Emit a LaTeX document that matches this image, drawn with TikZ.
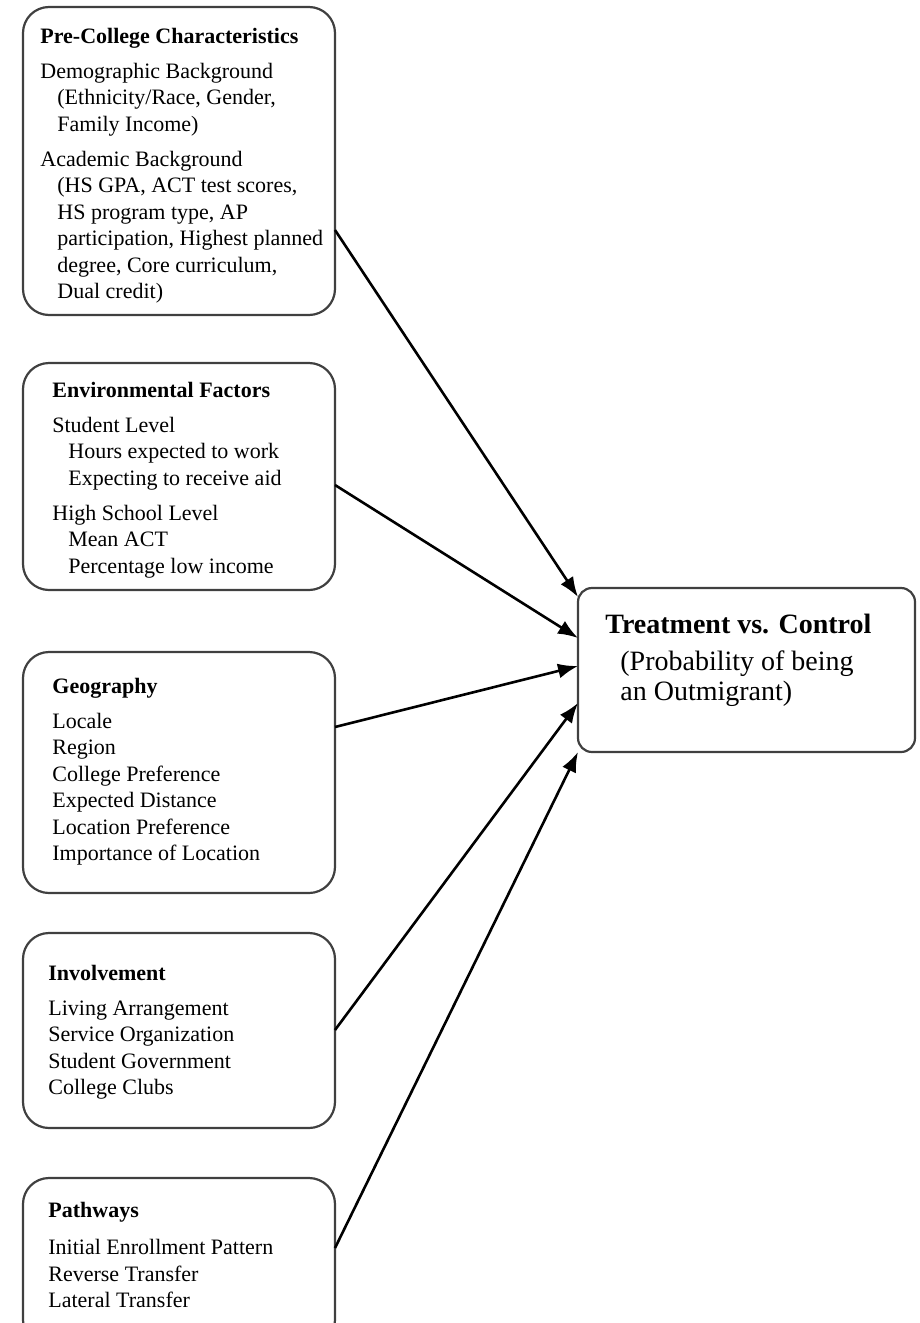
\documentclass[tikz,border=0pt]{standalone}
\usepackage{fontspec}
\setmainfont{Liberation Serif}
\usetikzlibrary{arrows.meta}

\tikzstyle{factor} = [draw=black!75, line width=1.1pt, rounded corners=13pt, minimum width=156pt, inner sep=0pt, outer sep=0pt, anchor=north west]
\tikzstyle{outcome} = [draw=black!75, line width=1.1pt, rounded corners=7pt, minimum width=168.5pt, minimum height=82pt, inner sep=0pt, outer sep=0pt, anchor=north west]
\tikzstyle{body} = [inner sep=0pt, anchor=north west, align=left, font=\fontsize{11}{13.25}\selectfont]
\tikzstyle{big} = [inner sep=0pt, anchor=north west, align=left, font=\fontsize{14}{15}\selectfont]
\tikzstyle{arr} = [line width=1.3pt, -{Latex[length=10pt,width=7.5pt]}]

\begin{document}
\begin{tikzpicture}[x=0.5pt, y=-0.5pt]
      \useasboundingbox (0,0) rectangle (920,1323);
      \clip (0,0) rectangle (920,1323);
      % boxes on the left
      \node[factor, minimum height=154pt] (pre) at (23,7) {};
      \node[factor, minimum height=113.5pt] (env) at (23,363) {};
      \node[factor, minimum height=120.5pt] (geo) at (23,652) {};
      \node[factor, minimum height=97.5pt] (inv) at (23,933) {};
      \node[factor, minimum height=84pt] (path) at (23,1178) {};
      \node[outcome] (res) at (578,588) {};
      % texts
      \node[body] (preT) at (40,24.5) {\strut\textbf{Pre-College Characteristics}\\[4.25pt]
        Demographic Background\\
        \hspace*{8.5pt}(Ethnicity/Race, Gender,\\
        \hspace*{8.5pt}Family Income)\\[4.25pt]
        Academic Background\\
        \hspace*{8.5pt}(HS GPA, ACT test scores,\\
        \hspace*{8.5pt}HS program type, AP\\
        \hspace*{8.5pt}participation, Highest planned\\
        \hspace*{8.5pt}degree, Core curriculum,\\
        \hspace*{8.5pt}Dual credit)};
      \node[body] (envT) at (52,378.5) {\strut\textbf{Environmental Factors}\\[4.25pt]
        Student Level\\
        \hspace*{8pt}Hours expected to work\\
        \hspace*{8pt}Expecting to receive aid\\[4.25pt]
        High School Level\\
        \hspace*{8pt}Mean ACT\\
        \hspace*{8pt}Percentage low income};
      \node[body] (geoT) at (52,674.5) {\strut\textbf{Geography}\\[4.25pt]
        Locale\\
        Region\\
        College Preference\\
        Expected Distance\\
        Location Preference\\
        Importance of Location};
      \node[body] (invT) at (48,961.5) {\strut\textbf{Involvement}\\[4.25pt]
        Living Arrangement\\
        Service Organization\\
        Student Government\\
        College Clubs};
      \node[body] (pathT) at (48,1198.5) {\strut\textbf{Pathways}\\[5.5pt]
        Initial Enrollment Pattern\\
        Reverse Transfer\\
        Lateral Transfer};
      \node[big] (resT) at (605,612) {\strut\textbf{Treatment vs. Control}\\[3.5pt]
        \hspace*{7.5pt}(Probability of being\\
        \hspace*{7.5pt}an Outmigrant)};
      % arrows
      \draw[arr] (pre.east |- 0,230) -- (res.west |- 0,597);
      \draw[arr] (env.east |- 0,485) -- (res.west |- 0,638);
      \draw[arr] (geo.east |- 0,727) -- (res.west |- 0,666);
      \draw[arr] (inv.east |- 0,1030) -- (res.west |- 0,703);
      \draw[arr] (path.east |- 0,1248) -- (res.west |- 0,752);
    \end{tikzpicture}
\end{document}
